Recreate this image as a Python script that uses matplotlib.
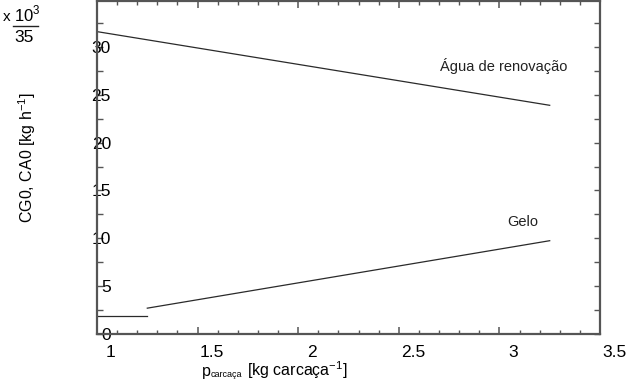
import matplotlib
matplotlib.use("Agg")
import matplotlib.pyplot as plt
from matplotlib.ticker import MultipleLocator
from matplotlib.transforms import ScaledTranslation
from matplotlib.lines import Line2D

plt.rcParams['font.family'] = ['Liberation Sans', 'DejaVu Sans']
plt.rcParams['mathtext.fontset'] = 'custom'
plt.rcParams['mathtext.rm'] = 'Liberation Sans'

# dados
x_agua = [1.0, 3.25]
y_agua = [31.6, 23.9]
x_gelo = [1.25, 3.25]
y_gelo = [2.7, 9.75]
x_base = [1.0, 1.25]
y_base = [1.9, 1.9]
xticks = [1, 1.5, 2, 2.5, 3, 3.5]
yticks = [0, 5, 10, 15, 20, 25, 30]

W, H = 626, 389
fig = plt.figure(figsize=(W / 100, H / 100), dpi=100)
ax = fig.add_axes([97/W, 55/H, 503/W, 333/H])

lc = '#2a2a2a'
ax.plot(x_agua, y_agua, color=lc, lw=0.9)
ax.plot(x_gelo, y_gelo, color=lc, lw=0.9)
ax.plot(x_base, y_base, color=lc, lw=0.9)

ax.set_xlim(1, 3.5)
ax.set_ylim(0, 34.8)

for s in ax.spines.values():
    s.set_color('#555555')
    s.set_linewidth(1.6)

ax.set_xticks(xticks)
ax.set_xticklabels([('%g' % v) for v in xticks])
ax.xaxis.set_minor_locator(MultipleLocator(0.1))
ax.set_yticks(yticks)
ax.set_yticklabels([str(v) for v in yticks])
ax.yaxis.set_minor_locator(MultipleLocator(2.5))

ax.tick_params(axis='both', which='both', direction='in', color='#555555',
               top=True, right=True, labelsize=12.5)
ax.tick_params(axis='x', which='major', length=5, width=1.1, pad=8)
ax.tick_params(axis='x', which='minor', length=3, width=1.0)
ax.tick_params(axis='y', which='major', length=4, width=1.0, pad=-10)
ax.tick_params(axis='y', which='minor', length=4, width=1.0)

off = ScaledTranslation(14/100, 0, fig.dpi_scale_trans)
for lab in ax.get_xticklabels():
    lab.set_transform(lab.get_transform() + off)
for lab in ax.get_yticklabels():
    lab.set_horizontalalignment('right')

ax.text(3.338, 28.0, 'Água de renovação', fontsize=10.5, ha='right', va='center',
        color='#222222')
ax.text(3.114, 11.7, 'Gelo', fontsize=10.5, ha='center', va='center', color='#222222')

# rotulo do eixo y
fig.text(27/W, 1 - 158/H, 'CG0, CA0 [kg h$^{-1}$]', fontsize=11.5, rotation=90,
         ha='center', va='center')

# rotulo do eixo x montado em partes (subscrito pequeno)
yb = 1 - 376/H
fig.text(202/W, yb, 'p', fontsize=11.5, va='baseline')
fig.text(211/W, yb - 1/H, 'carcaça', fontsize=6.5, va='baseline')
fig.text(247/W, yb, '[kg carcaça$^{-1}$]', fontsize=11.5, va='baseline')

# multiplicador no topo
fig.text(3/W, 1 - 17/H, 'x', fontsize=11, va='center', ha='left')
fig.text(14/W, 1 - 14/H, '$10^3$', fontsize=12, va='center', ha='left')
fig.add_artist(Line2D([13/W, 38/W], [1 - 26/H, 1 - 26/H], color='#222222', lw=1.0))
fig.text(24/W, 1 - 38/H, '35', fontsize=12.5, va='center', ha='center')

fig.savefig('out.png', dpi=100)
